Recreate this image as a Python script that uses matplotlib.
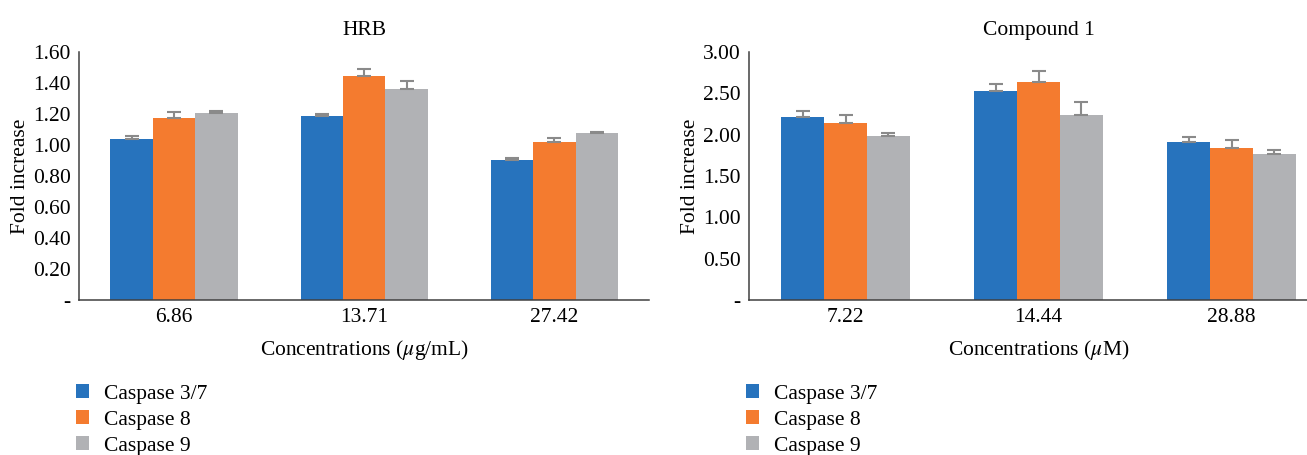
import matplotlib
matplotlib.use("Agg")
import matplotlib.pyplot as plt
import numpy as np
from matplotlib.patches import Patch

plt.rcParams["font.family"] = ["Liberation Serif", "DejaVu Serif"]
plt.rcParams["mathtext.fontset"] = "stix"

series = ["Caspase 3/7", "Caspase 8", "Caspase 9"]
colors = ["#2773BD", "#F47B2F", "#B1B2B5"]

hrb_conc = ["6.86", "13.71", "27.42"]
hrb_casp37 = [1.04, 1.19, 0.905]
hrb_casp8 = [1.175, 1.448, 1.02]
hrb_casp9 = [1.206, 1.36, 1.078]
hrb_err37 = [0.017, 0.012, 0.008]
hrb_err8 = [0.035, 0.043, 0.026]
hrb_err9 = [0.011, 0.056, 0.009]
hrb_yticks = [0, 0.2, 0.4, 0.6, 0.8, 1.0, 1.2, 1.4, 1.6]
hrb_yticklabels = ["-", "0.20", "0.40", "0.60", "0.80", "1.00", "1.20", "1.40", "1.60"]

c1_conc = ["7.22", "14.44", "28.88"]
c1_casp37 = [2.214, 2.527, 1.913]
c1_casp8 = [2.142, 2.635, 1.841]
c1_casp9 = [1.985, 2.238, 1.769]
c1_err37 = [0.072, 0.084, 0.064]
c1_err8 = [0.10, 0.13, 0.10]
c1_err9 = [0.04, 0.16, 0.04]
c1_yticks = [0, 0.5, 1.0, 1.5, 2.0, 2.5, 3.0]
c1_yticklabels = ["-", "0.50", "1.00", "1.50", "2.00", "2.50", "3.00"]

FS = 15.5
fig = plt.figure(figsize=(13.07, 4.55), dpi=100)


def panel(rect, title, cats, vals, errs, yticks, yticklabels, xlabel, width):
    ax = fig.add_axes(rect)
    x = np.arange(len(cats))
    for i, (v, e) in enumerate(zip(vals, errs)):
        off = (i - 1) * width
        ax.bar(x + off, v, width, color=colors[i], zorder=2)
        ax.errorbar(x + off, v, yerr=[np.zeros(len(e)), e], fmt="none",
                    ecolor="#8a8a8a", elinewidth=1.5, capsize=5, capthick=1.5,
                    zorder=3)
    ax.set_xlim(-0.5, 2.5)
    ax.set_ylim(yticks[0], yticks[-1])
    ax.set_yticks(yticks)
    ax.set_yticklabels(yticklabels, fontsize=FS)
    ax.set_xticks(x)
    ax.set_xticklabels(cats, fontsize=FS)
    ax.tick_params(length=0, pad=6)
    for s in ["top", "right"]:
        ax.spines[s].set_visible(False)
    for s in ["left", "bottom"]:
        ax.spines[s].set_color("#404040")
        ax.spines[s].set_linewidth(1.1)
    ax.set_title(title, fontsize=FS, pad=12)
    ax.set_ylabel("Fold increase", fontsize=FS, labelpad=2)
    ax.set_xlabel(xlabel, fontsize=FS, labelpad=8)
    return ax


panel([0.0604, 0.3407, 0.4365, 0.545], "HRB", hrb_conc,
      [hrb_casp37, hrb_casp8, hrb_casp9], [hrb_err37, hrb_err8, hrb_err9],
      hrb_yticks, hrb_yticklabels, r"Concentrations ($\mu$g/mL)", 0.223)
panel([0.5731, 0.3407, 0.443, 0.545], "Compound 1", c1_conc,
      [c1_casp37, c1_casp8, c1_casp9], [c1_err37, c1_err8, c1_err9],
      c1_yticks, c1_yticklabels, r"Concentrations ($\mu$M)", 0.222)

handles = [Patch(facecolor=c, edgecolor="none") for c in colors]
for xpos in (0.058, 0.571):
    fig.legend(handles, series, loc="upper left", bbox_to_anchor=(xpos, 0.155),
               frameon=False, fontsize=FS, handlelength=0.6, handleheight=0.6,
               handletextpad=0.7, labelspacing=0.3, borderpad=0, borderaxespad=0)

fig.savefig("out.png", dpi=100)
